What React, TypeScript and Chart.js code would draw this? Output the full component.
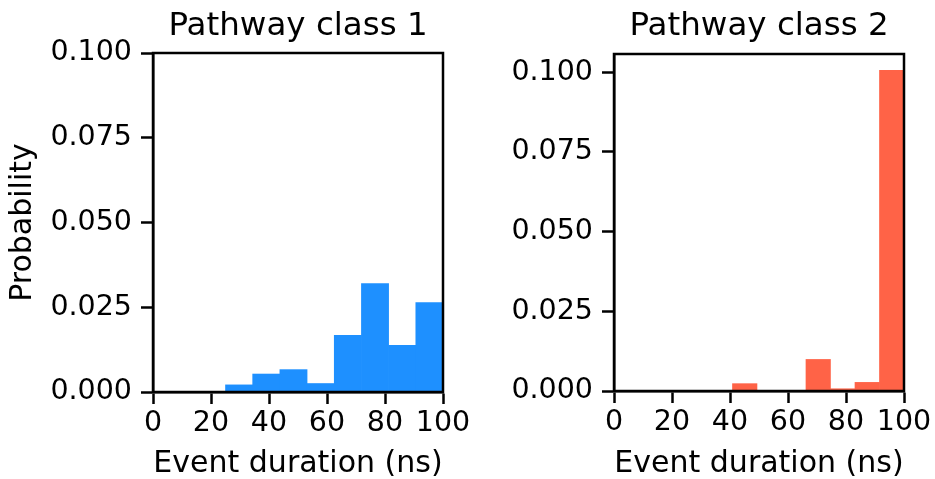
import React, { useEffect, useRef } from "react";
import { Chart, registerables } from "chart.js";

Chart.register(...registerables);

// ---- data ----
const durationTicks = [0, 20, 40, 60, 80, 100];
const probabilityTicks = [0, 0.025, 0.05, 0.075, 0.1];

const class1BinCenters = [29.69, 39.06, 48.44, 57.81, 67.19, 76.56, 85.94, 95.31];
const class1Probability = [0.0021, 0.0053, 0.0066, 0.0025, 0.0167, 0.032, 0.0138, 0.0264];

const class2BinCenters = [45.08, 53.52, 61.97, 70.42, 78.87, 87.32, 95.77];
const class2Probability = [0.0023, 0, 0, 0.0099, 0.0007, 0.0027, 0.1006];

const panelTitles = ["Pathway class 1", "Pathway class 2"];
const xAxisLabel = "Event duration (ns)";
const yAxisLabel = "Probability";

// ---- styling / layout ----
const FONT = "'DejaVu Sans', sans-serif";
const PAGE_W = 935;
const PAGE_H = 479;
const TICK_SIZE = 28.5;
const LABEL_SIZE = 30;
const TITLE_SIZE = 32.5;
const LINE_W = 2.5;

type Panel = {
  centers: number[];
  values: number[];
  color: string;
  title: string;
  yMax: number;
  showYLabel: boolean;
  canvasWidth: number;
  plotLeft: number;
  plotRight: number;
  plotTop: number;
  plotBottom: number;
};

const boxPlugin = {
  id: "boxSpines",
  afterDatasetsDraw(chart: any) {
    const { ctx, chartArea: a } = chart;
    ctx.save();
    ctx.strokeStyle = "#000";
    ctx.lineWidth = LINE_W;
    ctx.strokeRect(a.left, a.top, a.right - a.left, a.bottom - a.top);
    ctx.restore();
  },
};

function makeChart(canvas: HTMLCanvasElement, p: Panel) {
  const tickFont = { family: FONT, size: TICK_SIZE, weight: "normal" as const, lineHeight: 1.2 };
  const labelFont = { family: FONT, size: LABEL_SIZE, weight: "normal" as const, lineHeight: 1 };
  const gridOpts = {
    display: true,
    drawOnChartArea: false,
    drawTicks: true,
    tickLength: 12,
    tickWidth: LINE_W,
    tickColor: "#000",
    offset: false,
  };
  const borderOpts = { display: true, color: "#000", width: LINE_W };
  return new Chart(canvas, {
    type: "bar",
    data: {
      datasets: [
        {
          data: p.centers.map((x, i) => ({ x, y: p.values[i] })),
          backgroundColor: p.color,
          borderWidth: 0,
          barPercentage: 1,
          categoryPercentage: 1,
        },
      ],
    },
    options: {
      responsive: false,
      animation: false,
      devicePixelRatio: 1,
      layout: {
        padding: { left: 0, right: p.canvasWidth - p.plotRight, top: 0, bottom: 0 },
      },
      plugins: {
        legend: { display: false },
        tooltip: { enabled: false },
        title: {
          display: true,
          text: p.title,
          fullSize: false,
          color: "#000",
          font: { family: FONT, size: TITLE_SIZE, weight: "normal", lineHeight: 1 },
          padding: { top: 10.5, bottom: p.plotTop - 10.5 - TITLE_SIZE },
        },
      },
      scales: {
        x: {
          type: "linear",
          min: 0,
          max: 100,
          offset: false,
          grid: gridOpts,
          border: borderOpts,
          ticks: {
            color: "#000",
            font: tickFont,
            padding: 2,
            maxRotation: 0,
            autoSkip: false,
          },
          afterBuildTicks: (s: any) => {
            s.ticks = durationTicks.map((v) => ({ value: v }));
          },
          afterFit: (s: any) => {
            s.height = PAGE_H - p.plotBottom;
          },
          title: {
            display: true,
            text: xAxisLabel,
            color: "#000",
            font: labelFont,
            padding: { top: 0, bottom: 0 },
          },
        },
        y: {
          type: "linear",
          min: 0,
          max: p.yMax,
          grid: gridOpts,
          border: borderOpts,
          ticks: {
            color: "#000",
            font: tickFont,
            padding: 9,
            autoSkip: false,
            callback: (v: any) => Number(v).toFixed(3),
          },
          afterBuildTicks: (s: any) => {
            s.ticks = probabilityTicks.map((v) => ({ value: v }));
          },
          afterFit: (s: any) => {
            s.width = p.plotLeft;
          },
          title: {
            display: p.showYLabel,
            text: yAxisLabel,
            color: "#000",
            font: labelFont,
            padding: { top: 8, bottom: 0 },
          },
        },
      },
    },
    plugins: [boxPlugin],
  } as any);
}

const panels: Panel[] = [
  {
    centers: class1BinCenters,
    values: class1Probability,
    color: "#1E90FF",
    title: panelTitles[0],
    yMax: 0.1,
    showYLabel: true,
    canvasWidth: 490,
    plotLeft: 153,
    plotRight: 443,
    plotTop: 53,
    plotBottom: 392,
  },
  {
    centers: class2BinCenters,
    values: class2Probability,
    color: "#FF6347",
    title: panelTitles[1],
    yMax: 0.1057,
    showYLabel: false,
    canvasWidth: 445,
    plotLeft: 124,
    plotRight: 414,
    plotTop: 54,
    plotBottom: 391,
  },
];

function HistPanel({ p, left }: { p: Panel; left: number }) {
  const ref = useRef<HTMLCanvasElement | null>(null);
  useEffect(() => {
    if (!ref.current) return;
    const chart = makeChart(ref.current, p);
    return () => chart.destroy();
  }, [p]);
  return (
    <canvas
      ref={ref}
      width={p.canvasWidth}
      height={PAGE_H}
      style={{ position: "absolute", left, top: 0, width: p.canvasWidth, height: PAGE_H }}
    />
  );
}

export default function App() {
  return (
    <div
      style={{
        position: "fixed",
        left: 0,
        top: 0,
        width: PAGE_W,
        height: PAGE_H,
        background: "#fff",
        overflow: "hidden",
      }}
    >
      <HistPanel p={panels[0]} left={0} />
      <HistPanel p={panels[1]} left={490} />
    </div>
  );
}
